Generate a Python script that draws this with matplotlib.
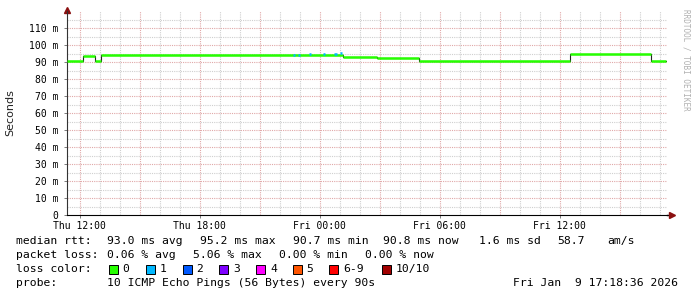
import matplotlib
matplotlib.use("Agg")
import matplotlib.pyplot as plt
from matplotlib.patches import Rectangle

W, H = 697, 297

# time in hours since Thu 00:00, rtt in ms
x_start, x_end = 11.36, 41.36
seg_start_h = [11.36, 12.175, 12.775, 13.075, 25.175, 26.875, 28.975, 36.525, 40.575]
seg_rtt_ms = [90.8, 93.6, 90.6, 94.4, 93.1, 92.4, 90.6, 94.5, 90.6]
data_end_h = 41.31

# short stretches with 1/10 packet loss
loss_start_h = [22.675, 22.925, 23.475, 24.175, 24.725, 25.025]
loss_end_h = [22.775, 23.025, 23.575, 24.275, 24.875, 25.125]
loss_rtt_ms = [94.4, 94.4, 94.5, 94.5, 94.6, 95.2]

tick_hours = [12, 18, 24, 30, 36]
tick_labels = ["Thu 12:00", "Thu 18:00", "Fri 00:00", "Fri 06:00", "Fri 12:00"]
y_ticks = list(range(0, 111, 10))

loss_names = ["0", "1", "2", "3", "4", "5", "6-9", "10/10"]
loss_colors = ["#26ff00", "#00b8ff", "#0059ff", "#7e00ff", "#ff00ff", "#ff5500", "#ff0000", "#a10000"]

stats_rtt = ["93.0 ms avg", "95.2 ms max", "90.7 ms min", "90.8 ms now", "1.6 ms sd", "58.7", "am/s"]
stats_loss = ["0.06 % avg", "5.06 % max", "0.00 % min", "0.00 % now"]

mono = "DejaVu Sans Mono"

fig = plt.figure(figsize=(W / 100, H / 100), dpi=100)
fig.patch.set_facecolor("white")
ax = fig.add_axes([66.7 / W, 82 / H, 600 / W, 204 / H])
ax.set_xlim(x_start, x_end)
ax.set_ylim(0, 120)

# grid
for h in range(12, 42):
    major = h % 3 == 0
    ax.axvline(h, color="#e0a8a8" if major else "#cfcfcf", lw=0.8, ls=(0, (1, 1)), zorder=0)
for v in range(5, 120, 5):
    major = v % 10 == 0
    ax.axhline(v, color="#e0a8a8" if major else "#cfcfcf", lw=0.8, ls=(0, (1, 1)), zorder=0)

# median rtt line
xs = seg_start_h + [data_end_h]
ys = seg_rtt_ms + [seg_rtt_ms[-1]]
ax.step(xs, ys, where="post", color="#222222", lw=0.8, zorder=2)
ax.hlines(seg_rtt_ms, seg_start_h, seg_start_h[1:] + [data_end_h], color=loss_colors[0], lw=1.8, zorder=3)
ax.hlines(loss_rtt_ms, loss_start_h, loss_end_h, color=loss_colors[1], lw=1.8, zorder=4)

# axes
for s in ["top", "right"]:
    ax.spines[s].set_visible(False)
ax.spines["left"].set_color("#333333")
ax.spines["bottom"].set_color("black")
ax.plot([1.0, 1.008], [0, 0], transform=ax.transAxes, color="black", lw=1, clip_on=False)
ax.plot([1.009], [0], transform=ax.transAxes, marker=">", color="#8b1010", ms=4, clip_on=False)
ax.plot([0], [1.005], transform=ax.transAxes, marker="^", color="#8b1010", ms=4, clip_on=False)

ax.set_xticks(tick_hours)
ax.set_xticklabels(tick_labels, family=mono, fontsize=7)
ax.set_yticks(y_ticks)
ax.set_yticklabels(["0" if v == 0 else f"{v} m" for v in y_ticks], family=mono, fontsize=7)
ax.tick_params(axis="both", length=2, width=0.6, color="#666666", pad=2.5)
ax.tick_params(axis="y", pad=4)

fig.text(10 / W, 1 - 113 / H, "Seconds", rotation=90, ha="center", va="center", fontsize=8, color="#222222")
fig.text(686 / W, 1 - 60 / H, "RRDTOOL / TOBI OETIKER", rotation=270, ha="center", va="center",
         family=mono, fontsize=5.5, color="#b0b0b0")

def put(x, y, s):
    fig.text(x / W, 1 - y / H, s, ha="left", va="center", family=mono, fontsize=8.2, color="black")

row_y = [241, 255, 269, 283]
put(16, row_y[0], "median rtt:")
for x, s in zip([107, 200, 293, 383, 479, 557, 607], stats_rtt):
    put(x, row_y[0], s)
put(16, row_y[1], "packet loss:")
for x, s in zip([107, 193, 279, 365], stats_loss):
    put(x, row_y[1], s)
put(16, row_y[2], "loss color:")
box_x = [108.5, 146, 182.5, 219, 256, 292.5, 329, 381.5]
for bx, name, c in zip(box_x, loss_names, loss_colors):
    fig.add_artist(Rectangle((bx / W, 1 - (row_y[2] + 4.5) / H), 9 / W, 9 / H,
                             transform=fig.transFigure, facecolor=c, edgecolor="black", lw=0.7))
    put(bx + 14, row_y[2], name)
put(16, row_y[3], "probe:")
put(107, row_y[3], "10 ICMP Echo Pings (56 Bytes) every 90s")
put(513, row_y[3], "Fri Jan  9 17:18:36 2026")

fig.savefig("out.png", dpi=100, facecolor="white")
